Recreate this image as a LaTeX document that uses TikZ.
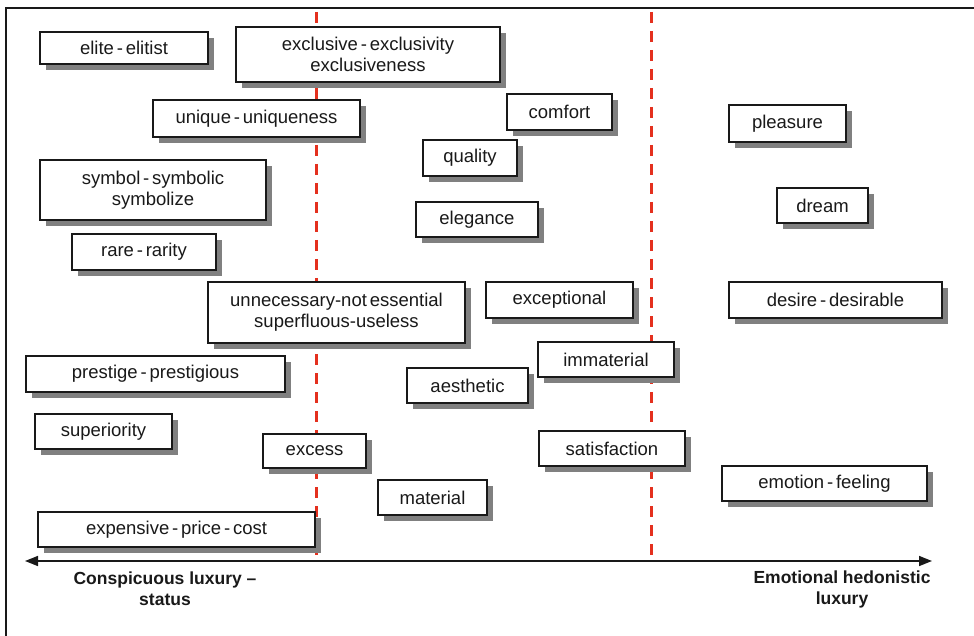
\documentclass[tikz,border=0pt]{standalone}
\usepackage{fontspec}
\setmainfont{Liberation Sans}
\newfontfamily\termfont{Liberation Sans}[WordSpace=0.55]
\usetikzlibrary{shadows,arrows.meta}
\definecolor{inkgray}{RGB}{25,25,25}
\definecolor{shadegray}{RGB}{128,128,128}
\definecolor{dashred}{RGB}{228,48,30}
\tikzset{
  wordbox/.style={draw=inkgray, line width=1.6pt, fill=white, inner sep=0pt,
    align=center, font=\termfont\fontsize{18.5}{21}\selectfont, text=inkgray,
    drop shadow={shadow xshift=6pt, shadow yshift=-6pt, fill=shadegray, opacity=1}},
  divider/.style={draw=dashred, line width=3pt, dash pattern=on 11pt off 8pt},
  axislabel/.style={align=center, font=\fontsize{17.5}{21}\bfseries\selectfont, text=inkgray},
  frameline/.style={draw=inkgray, line width=1.6pt}
}
% box: name, centre x, centre y, width, height, text
\newcommand{\termbox}[6]{\node[wordbox, minimum width=#4pt, minimum height=#5pt] (#1) at (#2,#3) {#6};}
\begin{document}
\begin{tikzpicture}[x=1pt, y=-1pt]
\useasboundingbox (0,0) rectangle (974,636);
% outer frame
\coordinate (fl) at (6,636);
\coordinate (ft) at (6,8);
\coordinate (fr) at (974,8);
\draw[frameline] (fl) -- (ft) -- (fr);
% dividing lines
\coordinate (d1t) at (316,12);
\coordinate (d1b) at (316,561);
\coordinate (d2t) at (651,12);
\coordinate (d2b) at (651,561);
\draw[divider] (d1t) -- (d1b);
\draw[divider] (d2t) -- (d2b);
% axis
\coordinate (axl) at (25,561);
\coordinate (axr) at (932,561);
\draw[inkgray, line width=1.5pt, {Triangle[length=13pt,width=10pt]}-{Triangle[length=13pt,width=10pt]}] (axl) -- (axr);
\node[axislabel] (lefttitle) at (165,589) {Conspicuous luxury –\\status};
\node[axislabel] (righttitle) at (842,589) {Emotional hedonistic\\luxury};
% terms
\termbox{elite}{124}{48}{168}{32}{elite - elitist}
\termbox{exclusive}{368}{54.5}{264}{55}{exclusive - exclusivity\\exclusiveness}
\termbox{unique}{256.5}{118.5}{207}{37}{unique - uniqueness}
\termbox{symbol}{153}{190}{226}{60}{symbol - symbolic\\symbolize}
\termbox{rare}{144}{252}{144}{36}{rare - rarity}
\termbox{comfort}{559.5}{112}{105}{36}{comfort}
\termbox{quality}{470}{158}{94}{36}{quality}
\termbox{elegance}{477}{219.5}{122}{35}{elegance}
\termbox{exceptional}{559.5}{300}{147}{36}{exceptional}
\termbox{unnecessary}{336.5}{312.5}{257}{61}{unnecessary-not essential\\superfluous-useless}
\termbox{pleasure}{787.5}{123.5}{117}{37}{pleasure}
\termbox{dream}{822.5}{205.5}{91}{35}{dream}
\termbox{desire}{835.5}{300}{213}{36}{desire - desirable}
\termbox{prestige}{155.5}{374}{259}{36}{prestige - prestigious}
\termbox{superiority}{103.5}{431.5}{137}{35}{superiority}
\termbox{excess}{314.5}{451}{103}{34}{excess}
\termbox{immaterial}{606}{359.5}{136}{35}{immaterial}
\termbox{aesthetic}{467.5}{385.5}{121}{35}{aesthetic}
\termbox{satisfaction}{612}{448.5}{146}{35}{satisfaction}
\termbox{material}{432.5}{497.5}{109}{35}{material}
\termbox{emotion}{824.5}{483.5}{205}{35}{emotion - feeling}
\termbox{expensive}{176.5}{529.5}{277}{35}{expensive - price - cost}
\end{tikzpicture}
\end{document}
